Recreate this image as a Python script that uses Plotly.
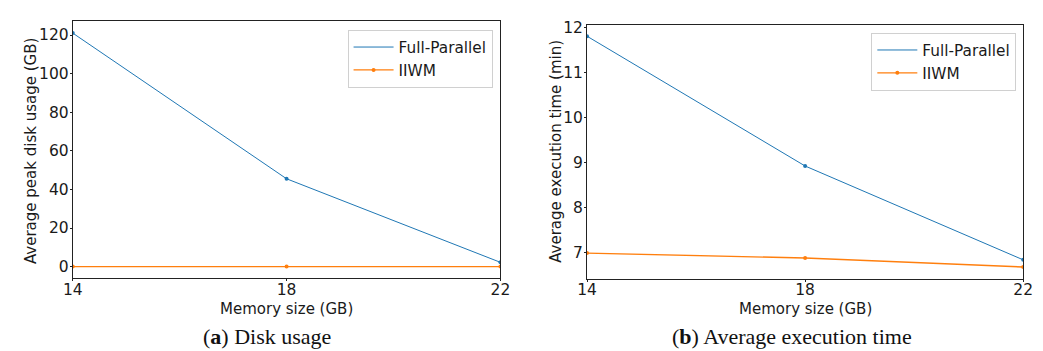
import plotly.graph_objects as go

memory_gb = [14, 18, 22]
disk_full_parallel = [121.0, 45.5, 2.2]
disk_iiwm = [0.0, 0.0, 0.0]
time_full_parallel = [11.81, 8.92, 6.83]
time_iiwm = [6.98, 6.87, 6.67]
x_ticks = [14, 18, 22]
disk_ticks = [0, 20, 40, 60, 80, 100, 120]
time_ticks = [7, 8, 9, 10, 11, 12]

BLUE = "#1f77b4"
ORANGE = "#ff7f0e"
W, H = 1043, 351

fig = go.Figure()

def add_panel(xa, ya, legend, yfp, yiw):
    fig.add_trace(go.Scatter(x=memory_gb, y=yfp, mode="lines", name="Full-Parallel",
                             line=dict(color=BLUE, width=1), xaxis=xa, yaxis=ya, legend=legend))
    fig.add_trace(go.Scatter(x=memory_gb, y=yfp, mode="markers", showlegend=False,
                             marker=dict(color=BLUE, size=4), xaxis=xa, yaxis=ya))
    fig.add_trace(go.Scatter(x=memory_gb, y=yiw, mode="lines+markers", name="IIWM",
                             line=dict(color=ORANGE, width=1.4), marker=dict(color=ORANGE, size=4),
                             xaxis=xa, yaxis=ya, legend=legend))

add_panel("x", "y", "legend", disk_full_parallel, disk_iiwm)
add_panel("x2", "y2", "legend2", time_full_parallel, time_iiwm)

tickfont = dict(family="DejaVu Sans", size=15.5, color="#1a1a1a")
titlefont = dict(family="DejaVu Sans", size=15, color="#1a1a1a")
axis_common = dict(showline=True, linecolor="#222", linewidth=1, mirror=True, showgrid=False,
                   zeroline=False, ticks="outside", ticklen=2, tickcolor="#222", tickfont=tickfont)

def yd(top, bottom):
    return [(H - bottom) / H, (H - top) / H]

legend_font = dict(family="DejaVu Sans", size=15.3, color="#1a1a1a")

fig.update_layout(
    width=W, height=H, margin=dict(l=0, r=0, t=0, b=0),
    paper_bgcolor="white", plot_bgcolor="white",
    xaxis=dict(domain=[64 / W, 500 / W], range=[14, 22], tickvals=x_ticks, anchor="y",
               ticklabelstandoff=-5, **axis_common),
    yaxis=dict(domain=yd(15.7, 277), range=[-6.05, 127.05], tickvals=disk_ticks, anchor="x",
               ticklabelstandoff=-2, **axis_common),
    xaxis2=dict(domain=[588.3 / W, 1033 / W], range=[14, 22], tickvals=x_ticks, anchor="y2",
                ticklabelstandoff=-5, **axis_common),
    yaxis2=dict(domain=yd(19, 277.3), range=[6.413, 12.067], tickvals=time_ticks, anchor="x2",
                ticklabelstandoff=-2, **axis_common),
    legend=dict(x=492 / W, y=(H - 24) / H, xanchor="right", yanchor="top",
                bordercolor="#d0d0d0", borderwidth=1, bgcolor="white",
                font=legend_font, itemwidth=40),
    legend2=dict(x=1026 / W, y=(H - 27) / H, xanchor="right", yanchor="top",
                 bordercolor="#d0d0d0", borderwidth=1, bgcolor="white",
                 font=legend_font, itemwidth=40),
    annotations=[
        dict(text="Memory size (GB)", x=282 / W, y=(H - 308) / H, xref="paper", yref="paper",
             xanchor="center", yanchor="middle", showarrow=False, font=titlefont),
        dict(text="Memory size (GB)", x=811 / W, y=(H - 308) / H, xref="paper", yref="paper",
             xanchor="center", yanchor="middle", showarrow=False, font=titlefont),
        dict(text="Average peak disk usage (GB)", x=21.5 / W, y=(H - 147.5) / H, xref="paper", yref="paper",
             xanchor="center", yanchor="middle", showarrow=False, textangle=-90, font=titlefont),
        dict(text="Average execution time (min)", x=556.5 / W, y=(H - 147.5) / H, xref="paper", yref="paper",
             xanchor="center", yanchor="middle", showarrow=False, textangle=-90, font=titlefont),
        dict(text="(<b>a</b>) Disk usage", x=262.5 / W, y=0, xref="paper", yref="paper",
             xanchor="center", yanchor="bottom", showarrow=False,
             font=dict(family="Liberation Serif", size=22, color="#111")),
        dict(text="(<b>b</b>) Average execution time", x=797 / W, y=0, xref="paper", yref="paper",
             xanchor="center", yanchor="bottom", showarrow=False,
             font=dict(family="Liberation Serif", size=22, color="#111")),
    ],
)

fig.write_html("out.html", config={"displayModeBar": False},
               post_script="document.body.style.margin='0';document.body.style.overflow='hidden';")
